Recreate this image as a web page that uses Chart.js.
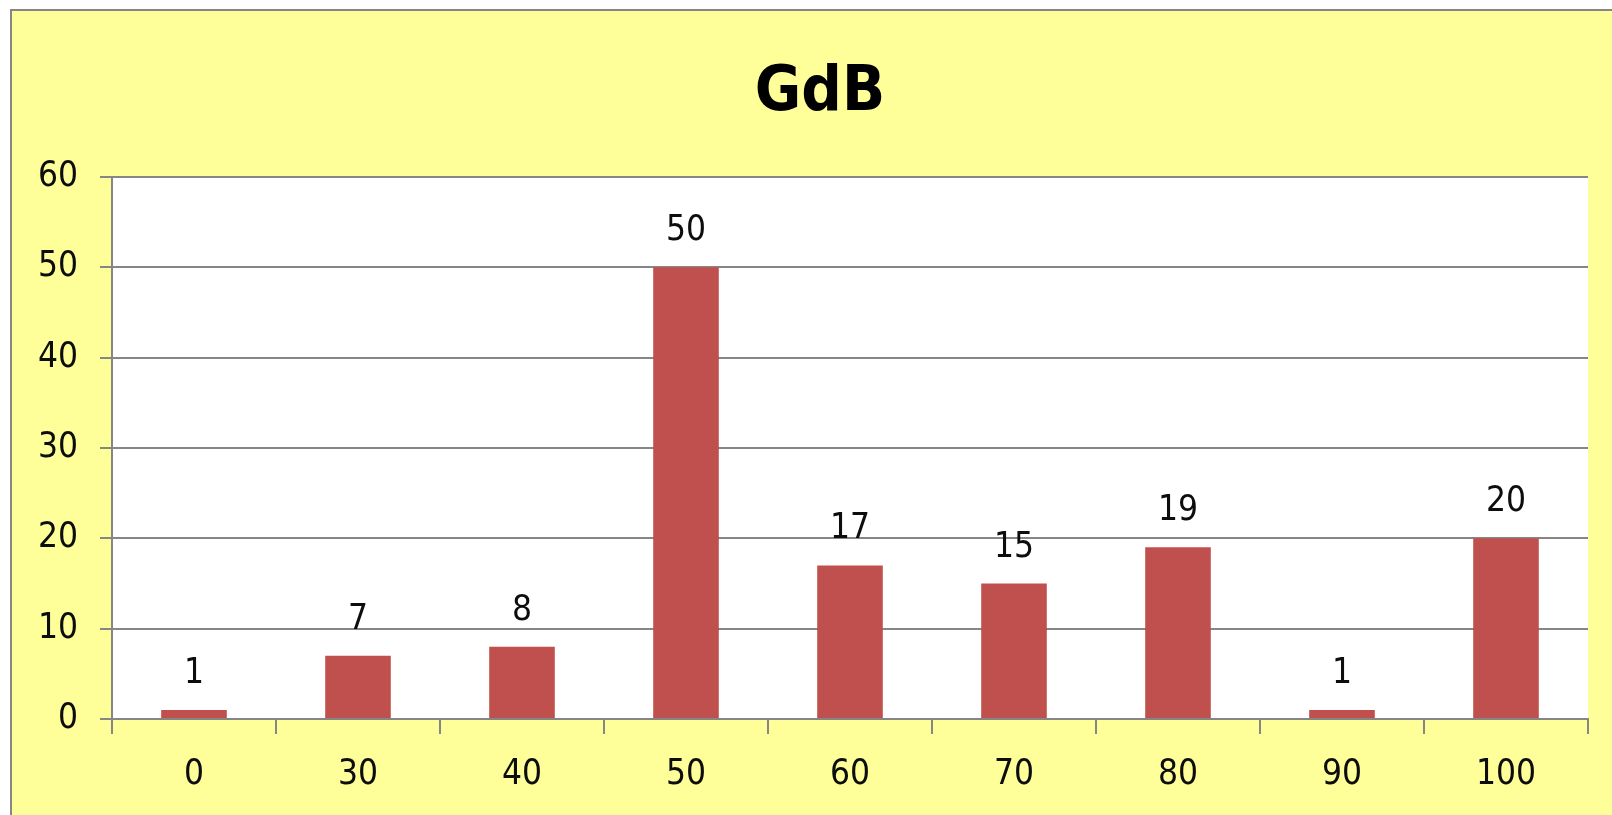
<!DOCTYPE html>
<html>
<head>
<meta charset="utf-8">
<script src="https://cdn.jsdelivr.net/npm/chart.js@4.4.1/dist/chart.umd.min.js"></script>
<style>
    html, body { margin: 0; padding: 0; background: #ffffff; }
    #wrap { width: 1612px; height: 815px; }
</style>
</head>
<body>
<div id="wrap"><canvas id="gdbChart" width="1612" height="815"></canvas></div>
<script>
const categories = ["0", "30", "40", "50", "60", "70", "80", "90", "100"];
const gdbValues = [1, 7, 8, 50, 17, 15, 19, 1, 20];
const yTicks = [0, 10, 20, 30, 40, 50, 60];
const chartTitle = "GdB";

const labelFont = "'DejaVu Sans Condensed', 'DejaVu Sans', sans-serif";
const gridGray = "#868686";

// Yellow panel, border, white plot area and the title
const backgroundPlugin = {
    id: "excelBackground",
    beforeDraw(chart) {
        const ctx = chart.ctx;
        const area = chart.chartArea;
        ctx.save();
        ctx.fillStyle = "#ffffff";
        ctx.fillRect(0, 0, chart.width, chart.height);
        ctx.fillStyle = "#ffff99";
        ctx.fillRect(11, 10, chart.width - 11, chart.height - 10);
        ctx.strokeStyle = gridGray;
        ctx.lineWidth = 2;
        ctx.beginPath();
        ctx.moveTo(11, chart.height);
        ctx.lineTo(11, 10);
        ctx.lineTo(chart.width, 10);
        ctx.stroke();
        ctx.fillStyle = "#ffffff";
        ctx.fillRect(area.left, area.top, area.right - area.left, area.bottom - area.top);

        ctx.fillStyle = "#000000";
        ctx.font = "bold 63px " + labelFont;
        ctx.textAlign = "center";
        ctx.textBaseline = "alphabetic";
        ctx.fillText(chartTitle, 820, 110);
        ctx.restore();
    }
};

// Value labels above each bar
const valueLabelPlugin = {
    id: "valueLabels",
    afterDatasetsDraw(chart) {
        const ctx = chart.ctx;
        const meta = chart.getDatasetMeta(0);
        ctx.save();
        ctx.fillStyle = "#0d0d0d";
        ctx.font = "35px " + labelFont;
        ctx.textAlign = "center";
        ctx.textBaseline = "alphabetic";
        meta.data.forEach((bar, i) => {
            ctx.fillText(String(gdbValues[i]), bar.x, bar.y - 27);
        });
        ctx.restore();
    }
};

const ctx = document.getElementById("gdbChart").getContext("2d");
const gdbChart = new Chart(ctx, {
    type: "bar",
    data: {
        labels: categories,
        datasets: [{
            label: chartTitle,
            data: gdbValues,
            backgroundColor: "#c0504d",
            borderWidth: 0,
            barPercentage: 0.4,
            categoryPercentage: 1.0,
        }, ],
    },
    options: {
        responsive: false,
        animation: false,
        layout: {
            padding: { top: 177, right: 24, bottom: 0, left: 0 },
        },
        plugins: {
            legend: { display: false },
            title: { display: false },
            tooltip: { enabled: false },
        },
        scales: {
            x: {
                afterFit: (scale) => { scale.height = 96; },
                grid: {
                    offset: true,
                    drawOnChartArea: false,
                    drawTicks: true,
                    tickLength: 15,
                    color: gridGray,
                    lineWidth: 2,
                },
                border: { display: true, color: gridGray, width: 2 },
                ticks: {
                    color: "#0d0d0d",
                    padding: 20,
                    maxRotation: 0,
                    font: { family: labelFont, size: 35 },
                },
            },
            y: {
                min: yTicks[0],
                max: yTicks[yTicks.length - 1],
                afterFit: (scale) => { scale.width = 112; },
                afterBuildTicks: (scale) => {
                    scale.ticks = yTicks.map((v) => ({ value: v }));
                },
                grid: {
                    drawTicks: true,
                    tickLength: 12,
                    color: gridGray,
                    lineWidth: 2,
                },
                border: { display: true, color: gridGray, width: 2 },
                ticks: {
                    color: "#0d0d0d",
                    padding: 22,
                    font: { family: labelFont, size: 35 },
                },
            },
        },
    },
    plugins: [backgroundPlugin, valueLabelPlugin],
});
</script>
</body>
</html>
